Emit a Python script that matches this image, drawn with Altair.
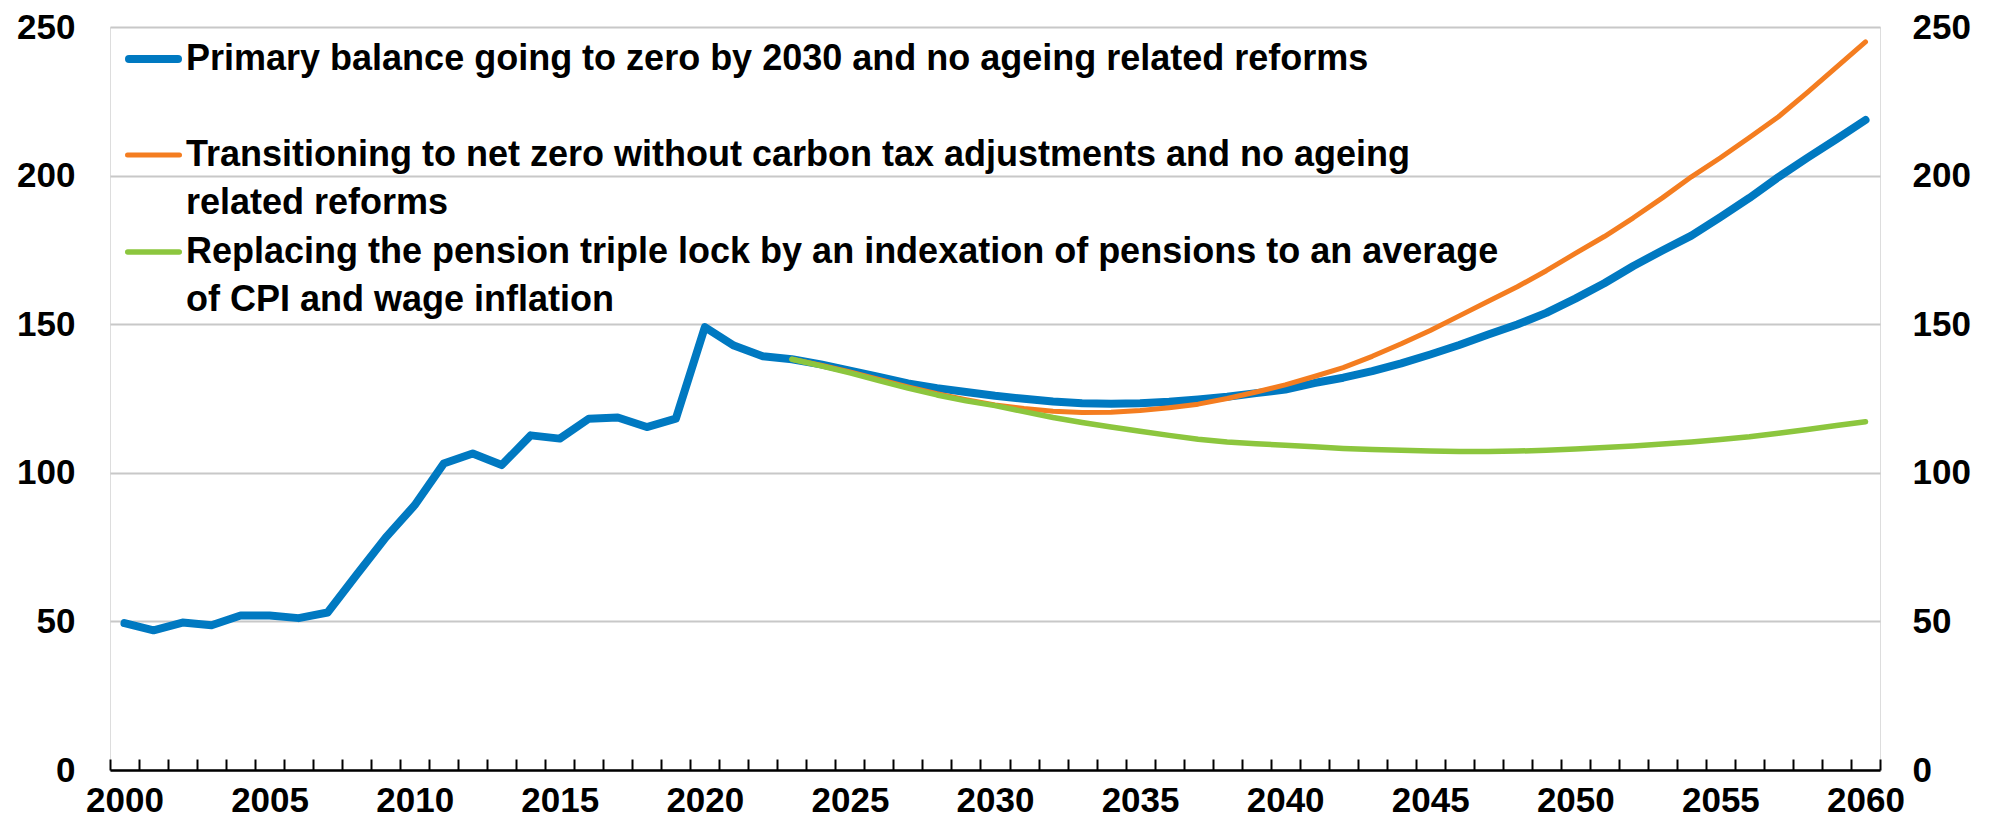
import altair as alt
import pandas as pd

# ---------------- data ----------------
hist_years = list(range(2000, 2023))
blue_hist = [49.4, 47.0, 49.6, 48.7, 52.0, 52.0, 51.1, 53.0, 65.7, 78.2,
             89.1, 103.1, 106.5, 102.6, 112.6, 111.5, 118.2, 118.6, 115.4, 118.2,
             149.0, 142.8, 139.2]

proj_years = list(range(2023, 2061))
blue_proj = [138.2, 136.5, 134.4, 132.3, 130.1, 128.5, 127.2, 125.9, 124.9, 124.0,
             123.4, 123.2, 123.4, 123.9, 124.7, 125.6, 126.8, 128.0, 130.2, 132.0,
             134.2, 136.8, 139.8, 143.0, 146.5, 149.9, 153.8, 158.6, 163.8, 169.6,
             174.8, 179.8, 186.0, 192.5, 199.5, 206.0, 212.3, 218.7]
orange_proj = [138.2, 136.2, 133.9, 131.4, 128.9, 126.6, 124.6, 122.8, 121.6, 120.7,
               120.3, 120.4, 121.0, 121.9, 123.1, 125.0, 127.2, 129.6, 132.4, 135.4,
               139.2, 143.4, 147.9, 152.8, 157.7, 162.6, 168.0, 173.8, 179.5, 185.8,
               192.5, 199.6, 206.0, 212.8, 219.8, 228.0, 236.5, 245.0]
green_proj = [138.2, 136.0, 133.6, 131.0, 128.5, 126.2, 124.2, 122.6, 120.6, 118.6,
              116.9, 115.4, 114.0, 112.6, 111.3, 110.4, 109.8, 109.3, 108.8, 108.2,
              107.8, 107.6, 107.3, 107.2, 107.2, 107.3, 107.6, 108.0, 108.5, 109.0,
              109.7, 110.4, 111.2, 112.1, 113.3, 114.6, 115.9, 117.2]

x_label_years = list(range(2000, 2061, 5))
y_ticks = [0, 50, 100, 150, 200, 250]

legend_lines = [
    ["Primary balance going to zero by 2030 and no ageing related reforms"],
    ["Transitioning to net zero without carbon tax adjustments and no ageing",
     "related reforms"],
    ["Replacing the pension triple lock by an indexation of pensions to an average",
     "of CPI and wage inflation"],
]

# ---------------- style ----------------
FONT = "Liberation Sans"
BLUE = "#0079C1"
ORANGE = "#F47D20"
GREEN = "#8CC63E"
GRID = "#c8c8c8"
W, H = 1770, 743

blue_df = pd.DataFrame({"year": hist_years + proj_years, "value": blue_hist + blue_proj})
orange_df = pd.DataFrame({"year": proj_years, "value": orange_proj})
green_df = pd.DataFrame({"year": proj_years, "value": green_proj})

xscale = alt.Scale(domain=[1999.5, 2060.5], nice=False, zero=False)
yscale = alt.Scale(domain=[0, 250], nice=False, zero=True)
boundary_ticks = [1999.5 + i for i in range(62)]

label_style = dict(labelFont=FONT, labelFontSize=35, labelFontWeight="bold",
                   labelColor="black", title=None)

blue = alt.Chart(blue_df).mark_line(
    color=BLUE, strokeWidth=8, strokeCap="round", strokeJoin="round"
).encode(
    x=alt.X("year:Q", scale=xscale,
            axis=alt.Axis(values=boundary_ticks, labels=False, ticks=True, tickSize=11,
                          tickWidth=2, tickColor="black", domain=False, grid=False,
                          offset=-11, orient="bottom", title=None)),
    y=alt.Y("value:Q", scale=yscale,
            axis=alt.Axis(values=y_ticks, orient="left", grid=True, gridColor=GRID,
                          gridWidth=2, ticks=False, domain=False, labelPadding=35,
                          **label_style)),
)

orange = alt.Chart(orange_df).mark_line(
    color=ORANGE, strokeWidth=5, strokeCap="round", strokeJoin="round"
).encode(
    x=alt.X("year:Q", scale=xscale,
            axis=alt.Axis(values=x_label_years, format="d", ticks=False, domain=True,
                          domainColor="black", domainWidth=2.5, grid=False,
                          labelPadding=13, labelFlush=False, labelOverlap=False,
                          orient="bottom", **label_style)),
    y=alt.Y("value:Q", scale=yscale,
            axis=alt.Axis(values=y_ticks, orient="right", grid=False, ticks=False,
                          domain=False, labelPadding=32, **label_style)),
)

green = alt.Chart(green_df).mark_line(
    color=GREEN, strokeWidth=5.5, strokeCap="round", strokeJoin="round"
).encode(
    x=alt.X("year:Q", scale=xscale, axis=None),
    y=alt.Y("value:Q", scale=yscale, axis=None),
)

# ---------------- legend (inside plot, top-left) ----------------
legend_colors = [BLUE, ORANGE, GREEN]
legend_widths = [8, 5, 5.5]
legend_y = [32, 128, 225]
line_h = 48
legend_layers = []
for lines, col, sw, y0 in zip(legend_lines, legend_colors, legend_widths, legend_y):
    cap = sw / 2
    legend_layers.append(
        alt.Chart(pd.DataFrame({"label": [" ".join(lines)]})).mark_rule(
            color=col, strokeWidth=sw, strokeCap="round"
        ).encode(x=alt.value(15 + cap), x2=alt.value(72 - cap), y=alt.value(y0))
    )
    for k, txt in enumerate(lines):
        legend_layers.append(
            alt.Chart(pd.DataFrame({"label": [txt]})).mark_text(
                align="left", baseline="middle", font=FONT, fontSize=36,
                fontWeight="bold", color="black"
            ).encode(x=alt.value(76), y=alt.value(y0 + k * line_h), text="label:N")
        )

chart = alt.layer(blue, orange, green, *legend_layers).resolve_axis(
    x="independent", y="independent"
).properties(
    width=W, height=H,
    autosize=alt.AutoSizeParams(type="none"),
    padding={"left": 102, "top": 19, "right": 100, "bottom": 55},
).configure_view(
    stroke="#bfbfbf", strokeWidth=1.5
).configure(background="white")

chart.save("out.html", embed_options={"renderer": "svg", "actions": False})
